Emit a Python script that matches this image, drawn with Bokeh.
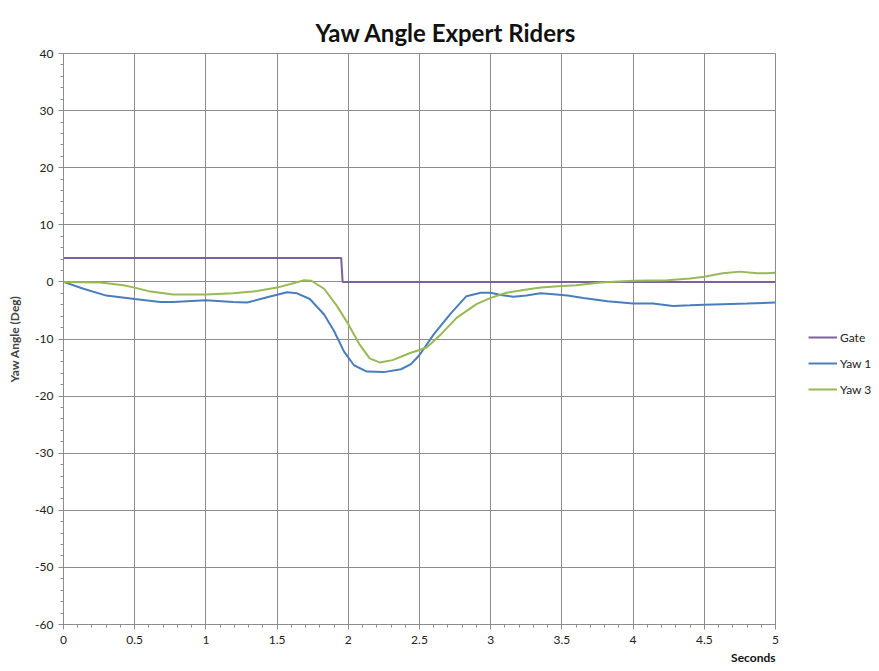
from bokeh.plotting import figure
from bokeh.layouts import row
from bokeh.models import Range1d, FixedTicker, Legend, LegendItem, Title
from bokeh.embed import file_html
from bokeh.resources import INLINE

# ---- data ----
gate_t = [0, 1.95, 1.96, 5.0]
gate_v = [4.2, 4.2, 0.0, 0.0]

yaw1_t = [0, 0.14, 0.30, 0.5, 0.68, 0.77, 1.0, 1.19, 1.29, 1.43, 1.57, 1.64, 1.73, 1.83, 1.90,
          1.97, 2.04, 2.13, 2.25, 2.37, 2.44, 2.5, 2.6, 2.72, 2.83, 2.93, 3.0, 3.07, 3.16, 3.25,
          3.35, 3.42, 3.54, 3.65, 3.82, 4.0, 4.14, 4.28, 4.40, 4.5, 4.63, 4.80, 5.0]
yaw1_v = [0, -1.2, -2.4, -3.0, -3.5, -3.5, -3.2, -3.5, -3.6, -2.7, -1.8, -2.0, -3.0, -5.7, -8.6,
          -12.2, -14.6, -15.7, -15.8, -15.3, -14.4, -12.8, -9.2, -5.5, -2.5, -1.9, -1.9, -2.3, -2.6, -2.4,
          -2.0, -2.1, -2.4, -2.8, -3.4, -3.8, -3.8, -4.2, -4.1, -4.0, -3.9, -3.8, -3.6]

yaw3_t = [0, 0.26, 0.42, 0.5, 0.61, 0.77, 1.0, 1.19, 1.33, 1.50, 1.62, 1.69, 1.74, 1.83, 1.92,
          2.0, 2.08, 2.15, 2.22, 2.31, 2.43, 2.55, 2.65, 2.76, 2.90, 3.0, 3.11, 3.23, 3.35, 3.5,
          3.60, 3.77, 4.0, 4.24, 4.40, 4.5, 4.63, 4.75, 4.87, 4.94, 5.0]
yaw3_v = [0, -0.1, -0.6, -1.0, -1.7, -2.2, -2.2, -2.0, -1.7, -1.0, -0.2, 0.3, 0.2, -1.2, -4.2,
          -7.4, -11.0, -13.4, -14.1, -13.7, -12.5, -11.5, -9.2, -6.3, -3.9, -2.8, -1.9, -1.4, -1.0, -0.7,
          -0.6, -0.1, 0.2, 0.3, 0.6, 0.9, 1.5, 1.8, 1.5, 1.5, 1.6]

x_ticks = [0, 0.5, 1, 1.5, 2, 2.5, 3, 3.5, 4, 4.5, 5]
x_tick_labels = ["0", "0.5", "1", "1.5", "2", "2.5", "3", "3.5", "4", "4.5", "5"]
y_ticks = [-60, -50, -40, -30, -20, -10, 0, 10, 20, 30, 40]
y_tick_labels = ["-60", "-50", "-40", "-30", "-20", "-10", "0", "10", "20", "30", "40"]

series_names = ["Gate", "Yaw 1", "Yaw 3"]
series_colors = ["#7D60A0", "#4A7EBB", "#98B954"]
series_t = [gate_t, yaw1_t, yaw3_t]
series_v = [gate_v, yaw1_v, yaw3_v]

title_text = "Yaw Angle Expert Riders"
x_title = "Seconds"
y_title = "Yaw Angle (Deg)"

FONT = "Lato"
GRID = "#8C8C8C"
H = 668

p = figure(width=790, height=H, output_backend="svg", toolbar_location=None,
           x_range=Range1d(0, 5), y_range=Range1d(-60, 40),
           min_border_left=63, min_border_right=15, min_border_top=53, min_border_bottom=H - 624)
p.background_fill_color = "white"
p.border_fill_color = "white"
p.outline_line_color = GRID

# axes
p.xaxis.ticker = FixedTicker(ticks=x_ticks, minor_ticks=[i / 10 for i in range(51)])
p.yaxis.ticker = FixedTicker(ticks=y_ticks, minor_ticks=list(range(-60, 41, 2)))
p.xaxis.major_label_overrides = {t: l for t, l in zip(x_ticks, x_tick_labels)}
p.yaxis.major_label_overrides = {t: l for t, l in zip(y_ticks, y_tick_labels)}
for ax in (p.xaxis, p.yaxis):
    ax.axis_line_color = GRID
    ax.major_tick_line_color = GRID
    ax.minor_tick_line_color = GRID
    ax.major_tick_out = 5
    ax.major_tick_in = 0
    ax.minor_tick_out = 3
    ax.minor_tick_in = 0
    ax.major_label_text_font = FONT
    ax.major_label_text_font_size = "12px"
    ax.major_label_text_color = "#222222"
p.xaxis.major_label_standoff = 6
p.yaxis.major_label_standoff = 5
p.yaxis.axis_label = y_title
p.yaxis.axis_label_text_font = FONT
p.yaxis.axis_label_text_font_style = "bold"
p.yaxis.axis_label_text_font_size = "12px"
p.yaxis.axis_label_standoff = 10

p.xgrid.grid_line_color = GRID
p.ygrid.grid_line_color = GRID
p.xgrid.ticker = p.xaxis.ticker
p.ygrid.ticker = p.yaxis.ticker

for t, v, col in zip(series_t, series_v, series_colors):
    p.line(t, v, line_color=col, line_width=2)

p.add_layout(Title(text=title_text, align="left", offset=252, text_font=FONT,
                   text_font_style="bold", text_font_size="24px", text_color="#111111",
                   standoff=13), "above")
p.add_layout(Title(text=x_title, align="right", text_font=FONT, offset=0,
                   text_font_style="bold", text_font_size="12px", text_color="#111111",
                   standoff=3), "below")

# ---- legend panel (separate narrow figure; its frame is aligned with the main one) ----
LW = 81
lf = figure(width=LW, height=H, output_backend="svg", toolbar_location=None,
            x_range=Range1d(100, 101), y_range=Range1d(100, 101), min_border=0)
lf.axis.visible = False
lf.grid.visible = False
lf.outline_line_color = None
lf.border_fill_color = "white"
lf.background_fill_color = "white"
items = []
for name, col, t, v in zip(series_names, series_colors, series_t, series_v):
    # single-point line: invisible in this panel, only supplies the legend glyph
    r = lf.line(t[:1], v[:1], line_color=col, line_width=2)
    items.append(LegendItem(label=name, renderers=[r]))
legend = Legend(items=items, location=(18, 225), padding=0, margin=0, spacing=6,
                glyph_width=29, glyph_height=20, label_height=20, label_standoff=3,
                border_line_color=None, background_fill_alpha=0,
                label_text_font=FONT, label_text_font_size="12px", label_text_color="#222222")
lf.add_layout(legend, "center")

open("out.html", "w").write(file_html(row(p, lf), INLINE))
